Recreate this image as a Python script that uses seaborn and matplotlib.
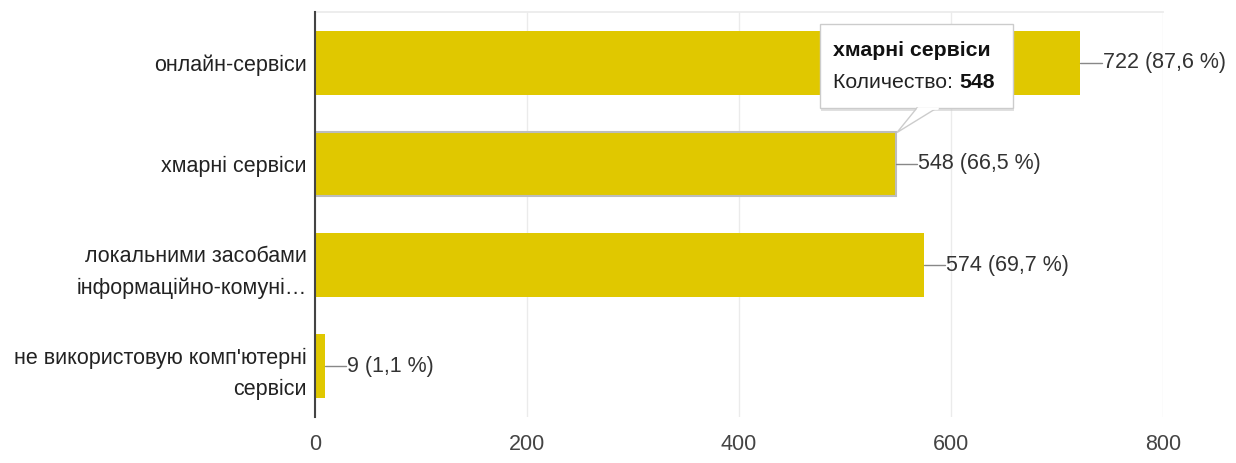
import matplotlib
matplotlib.use("Agg")
import matplotlib.pyplot as plt
import seaborn as sns
import pandas as pd
from matplotlib.patches import FancyBboxPatch, Polygon

categories = ["онлайн-сервіси", "хмарні сервіси",
              "локальними засобами\nінформаційно-комуні…",
              "не використовую комп'ютерні\nсервіси"]
counts = [722, 548, 574, 9]
percents = ["87,6", "66,5", "69,7", "1,1"]
xticks = [0, 200, 400, 600, 800]

df = pd.DataFrame({"cat": categories, "n": counts})

sns.set_theme(style="white")
plt.rcParams['font.family'] = ['Liberation Sans', 'DejaVu Sans']

FS = 15.5
fig = plt.figure(figsize=(12.36, 4.63), dpi=100)
ax = fig.add_axes([0.2549, 0.0994, 0.941 - 0.2549, 0.974 - 0.0994])

bar_color = "#e0c800"
sns.barplot(data=df, y="cat", x="n", orient="h", color=bar_color,
            saturation=1, width=0.63, ax=ax, zorder=3)

for i, p in enumerate(ax.patches):
    p.set_edgecolor("none")
    if i == 1:
        p.set_edgecolor("#bdbdbd")
        p.set_linewidth(1.5)

ax.set_xlim(0, 800)
ax.set_ylim(3.5, -0.5)
ax.set_xticks(xticks)
ax.set_xticklabels([str(t) for t in xticks], fontsize=FS, color="#444444")
ax.tick_params(axis="y", labelsize=FS, colors="#222222", length=0, pad=6)
ax.tick_params(axis="x", length=0, pad=12)
ax.set_xlabel("")
ax.set_ylabel("")
for lab in ax.get_yticklabels():
    lab.set_horizontalalignment("right")
    lab.set_multialignment("right")
    lab.set_linespacing(1.6)

ax.grid(axis="x", color="#ebebeb", linewidth=1, zorder=0)
for s in ["right", "bottom"]:
    ax.spines[s].set_visible(False)
ax.spines["top"].set_color("#ebebeb")
ax.spines["left"].set_color("#444444")
ax.spines["left"].set_linewidth(1.5)
ax.spines["left"].set_zorder(5)

for i, (n, pc) in enumerate(zip(counts, percents)):
    ax.plot([n, n + 20], [i, i], color="#888888", lw=1, zorder=4, clip_on=False)
    ax.text(n + 21, i, f"{n} ({pc} %)", va="center", ha="left",
            fontsize=FS, color="#333333", zorder=4)

# tooltip
tx0, tx1 = 476, 658
ty0, ty1 = -0.38, 0.45
shadow = FancyBboxPatch((tx0 + 1.5, ty0 + 0.025), tx1 - tx0, ty1 - ty0,
                        boxstyle="square,pad=0", fc="#cccccc", ec="none",
                        zorder=6, clip_on=False, alpha=0.6)
ax.add_patch(shadow)
box = FancyBboxPatch((tx0, ty0), tx1 - tx0, ty1 - ty0,
                     boxstyle="square,pad=0", fc="white", ec="#cccccc",
                     lw=1, zorder=7, clip_on=False)
ax.add_patch(box)
tri = Polygon([[568, ty1 - 0.005], [587, ty1 - 0.005], [549, 0.69]],
              closed=True, fc="white", ec="#cccccc", lw=1, zorder=7,
              clip_on=False)
ax.add_patch(tri)
ax.plot([568.7, 586.3], [ty1, ty1], color="white", lw=2, zorder=8)
TFS = 15.3
ax.text(tx0 + 13, -0.12, "хмарні сервіси", fontsize=TFS, fontweight="bold",
        color="#111111", va="center", ha="left", zorder=9)
t1 = ax.text(tx0 + 13, 0.2, "Количество: ", fontsize=TFS, color="#222222",
             va="center", ha="left", zorder=9)
ax.annotate("548", xycoords=t1, xy=(1, 0.5), va="center", ha="left",
            fontsize=TFS, fontweight="bold", color="#111111", zorder=9)

fig.savefig("out.png", dpi=100)
